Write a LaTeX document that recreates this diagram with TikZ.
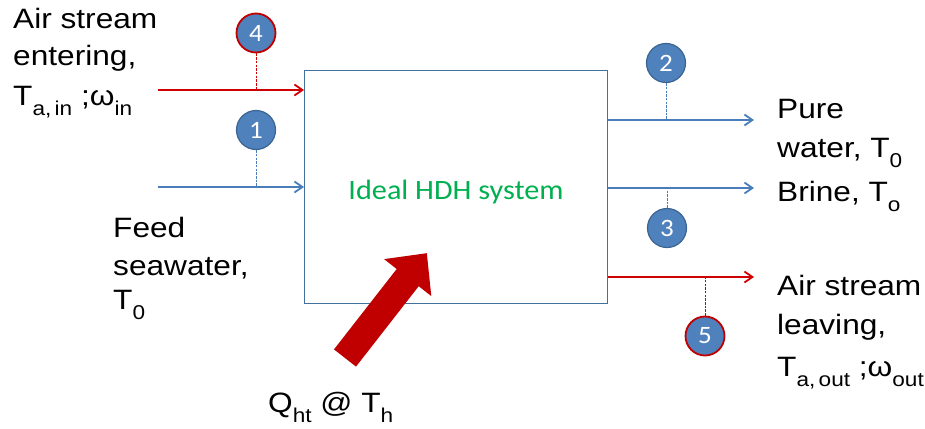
\documentclass[tikz,border=0pt]{standalone}
\usepackage{fontspec}
\setmainfont{Liberation Sans}[FakeStretch=1.13]
\newfontfamily\calib{Carlito}[FakeStretch=1.08]
\usetikzlibrary{arrows.meta}
\definecolor{lblue}{HTML}{4A7EBB}
\definecolor{boxblue}{HTML}{41719C}
\definecolor{cfill}{HTML}{4F81BD}
\definecolor{cedge}{HTML}{3A6491}
\definecolor{lred}{HTML}{D00000}
\definecolor{dred}{HTML}{C00000}
\definecolor{hdhgreen}{HTML}{00B050}
\newcommand{\lowsub}[1]{\raisebox{-10pt}{\fontsize{20}{20}\selectfont #1}}
\begin{document}
\begin{tikzpicture}[x=1pt,y=-1pt,
  txt/.style={anchor=base west, inner sep=0pt, font=\fontsize{28}{36}\selectfont},
  num/.style={circle, fill=cfill, draw=cedge, line width=1.2pt, minimum size=39pt, inner sep=0pt,
    text=white, font=\calib\fontsize{25}{25}\selectfont},
  rnum/.style={num, draw=dred, line width=1.8pt},
  bflow/.style={draw=lblue, line width=1.8pt, -{Straight Barb[length=8pt,width=11pt,line width=1.8pt]}},
  rflow/.style={draw=lred, line width=1.8pt, -{Straight Barb[length=8pt,width=11pt,line width=1.8pt]}},
  bdash/.style={draw=lblue, line width=1pt, dash pattern=on 2.5pt off 1.2pt},
  rdash/.style={draw=lred, line width=1pt, dash pattern=on 2.5pt off 1.2pt}]
\useasboundingbox (0,0) rectangle (925,428);
\fill[white] (0,0) rectangle (925,428);

% system box
\node[draw=boxblue, line width=1.3pt, minimum width=303pt, minimum height=233pt,
  anchor=north west, inner sep=0pt] (sys) at (304,70) {};
\node[anchor=base, inner sep=0pt, text=hdhgreen, font=\calib\fontsize{28}{28}\selectfont] (lbl) at (456,199) {Ideal HDH system};

% inlet coordinates
\coordinate (a4) at (158,90);
\coordinate (a1) at (158,187);
% outlet coordinates
\coordinate (o2) at (754,120);
\coordinate (o3) at (754,188);
\coordinate (o5) at (754,277);

% state circles
\node[rnum] (c4) at (256,33) {4};
\node[num] (c1) at (256,130) {1};
\node[num] (c2) at (666,63) {2};
\node[num] (c3) at (667,228) {3};
\node[rnum] (c5) at (705,336) {5};

% flows
\draw[rflow] (a4) -- (a4 -| sys.west);
\draw[bflow] (a1) -- (a1 -| sys.west);
\draw[bflow] (o2 -| sys.east) -- (o2);
\draw[bflow] (o3 -| sys.east) -- (o3);
\draw[rflow] (o5 -| sys.east) -- (o5);

% dashed markers
\draw[rdash] (c4.south) -- (c4 |- a4);
\draw[bdash] (c1.south) -- (c1 |- a1);
\draw[bdash] (c2.south) -- (c2 |- o2);
\draw[bdash] (c3.north) -- (c3 |- o3);
\draw[rdash] (c5.north) -- (c5 |- o5);

% heat input arrow
\fill[dred] (334.0,349.4) -- (396.7,269.0) -- (384.1,259.1) -- (426.8,253.2)
  -- (431.3,296.1) -- (418.7,286.2) -- (356.0,366.6) -- cycle;

% texts
\node[txt] (t1) at (13,29) {Air stream};
\node[txt] (t2) at (13,65) {entering,};
\node[txt] (t3) at (13,105) {T\lowsub{a,\,in} ;ω\lowsub{in}};

\node[txt] (f1) at (113,237) {Feed};
\node[txt] (f2) at (113,275) {seawater,};
\node[txt] (f3) at (113,309) {T\lowsub{0}};

\node[txt] (p1) at (777,118) {Pure};
\node[txt] (p2) at (777,157) {water, T\lowsub{0}};
\node[txt] (b1) at (777,201) {Brine, T\lowsub{o}};

\node[txt] (l1) at (777,295) {Air stream};
\node[txt] (l2) at (777,334) {leaving,};
\node[txt] (l3) at (777,376) {T\lowsub{a,\,out} ;ω\lowsub{out}};

\node[txt] (q) at (268,412) {Q\lowsub{ht} @ T\lowsub{h}};
\end{tikzpicture}
\end{document}
